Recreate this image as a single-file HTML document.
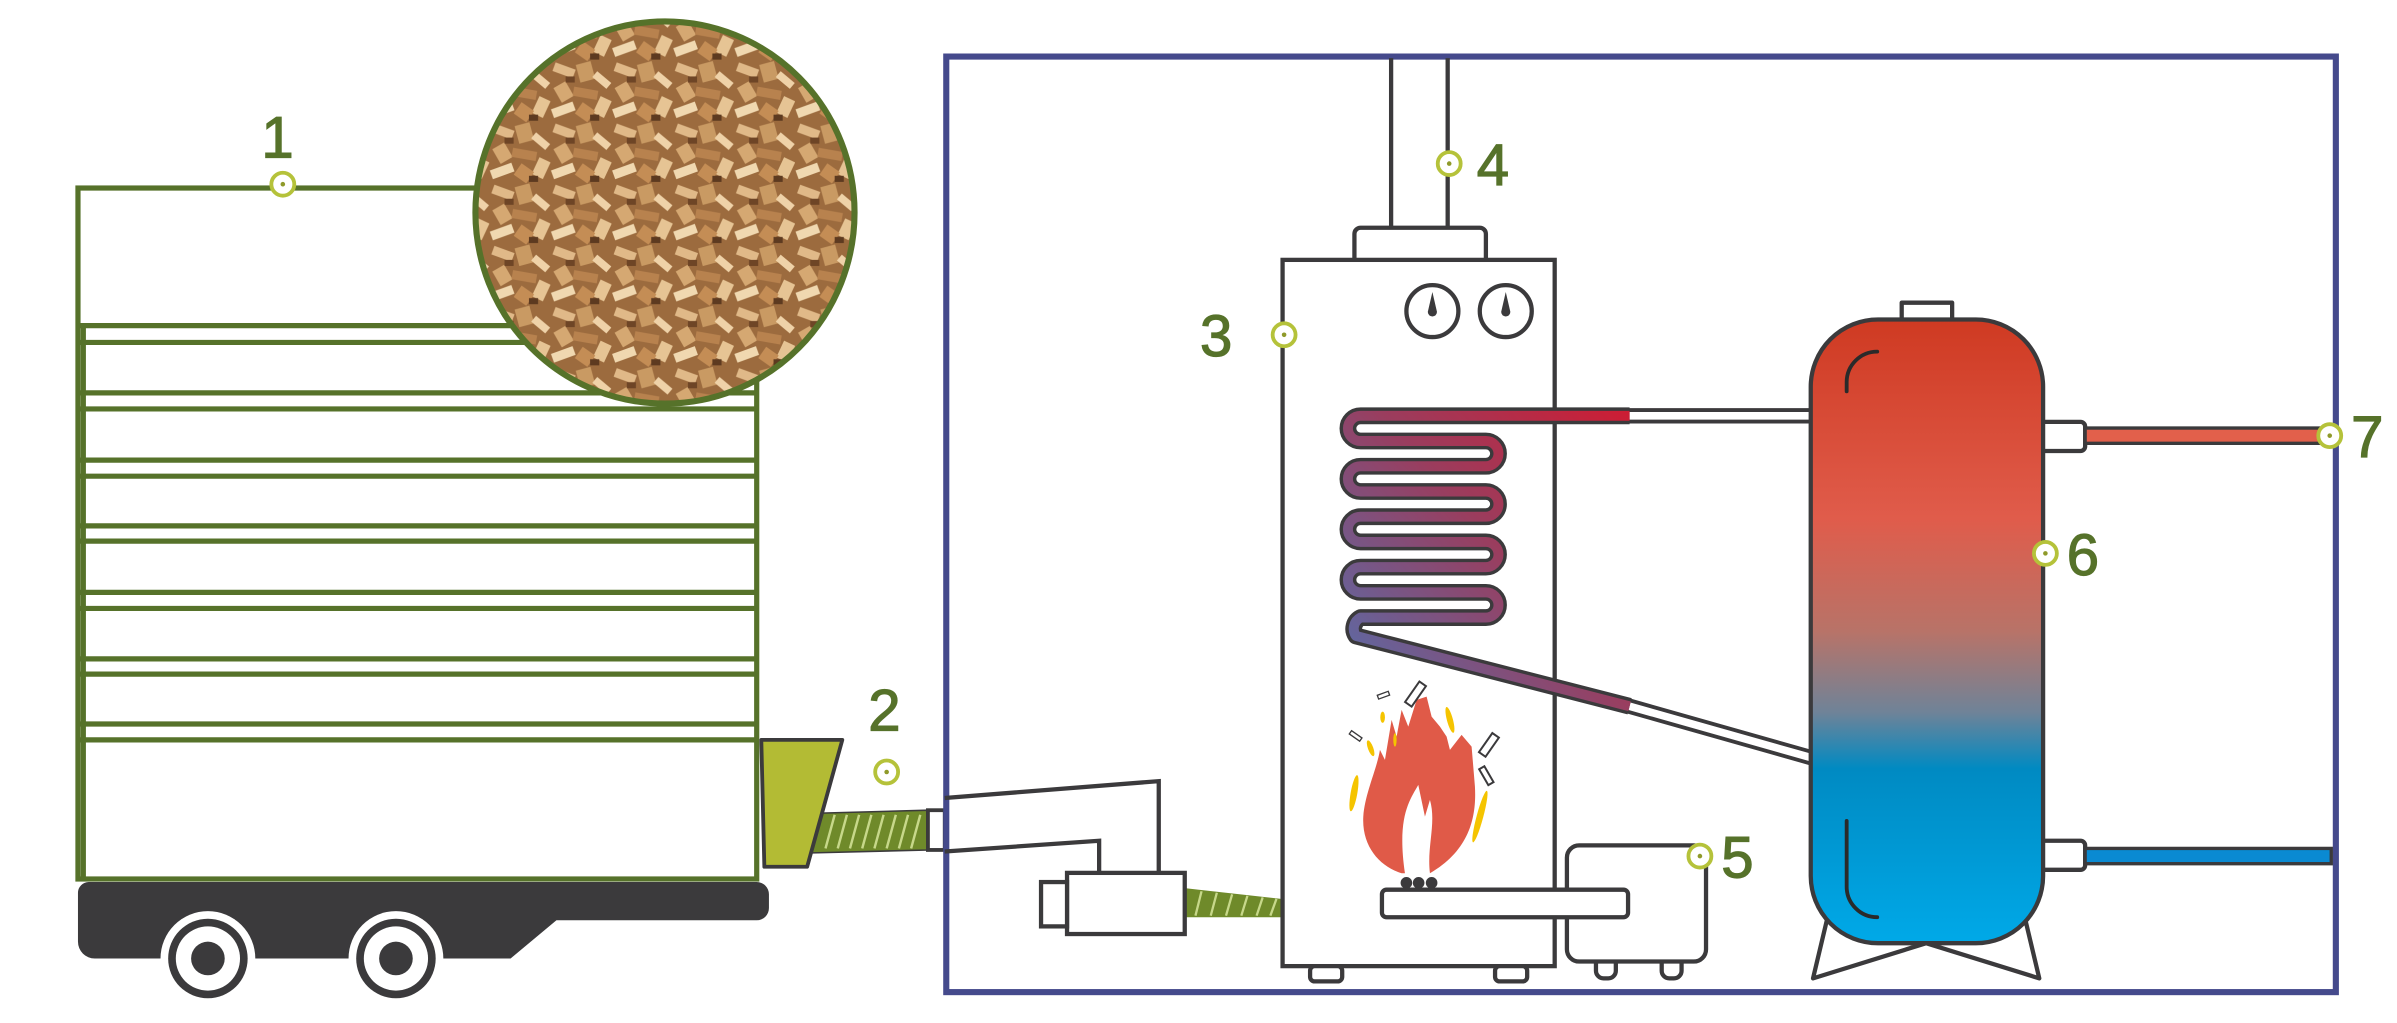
<!DOCTYPE html>
<html><head><meta charset="utf-8"><style>
html,body{margin:0;padding:0;background:#fff;}
svg{display:block;}
text{font-family:"Liberation Sans",sans-serif;fill:#56722a;}
</style></head><body>
<svg width="2397" height="1023" viewBox="0 0 1568 669.2" xmlns="http://www.w3.org/2000/svg">
<defs>
<pattern id="chips" width="40" height="40" patternUnits="userSpaceOnUse">
<rect width="40" height="40" fill="#9c6b3e"/>
<rect x="2" y="3" width="14" height="6" fill="#e0b988" transform="rotate(20 9 6)"/>
<rect x="18" y="1" width="10" height="12" fill="#c99a63" transform="rotate(-15 23 7)"/>
<rect x="28" y="10" width="12" height="5" fill="#efd2a8" transform="rotate(40 34 12)"/>
<rect x="4" y="15" width="9" height="11" fill="#d5a872" transform="rotate(-30 8 20)"/>
<rect x="15" y="18" width="16" height="6" fill="#b8824e" transform="rotate(10 23 21)"/>
<rect x="30" y="24" width="8" height="12" fill="#e6c494" transform="rotate(25 34 30)"/>
<rect x="1" y="29" width="15" height="6" fill="#f0d8b0" transform="rotate(-20 8 32)"/>
<rect x="18" y="29" width="10" height="9" fill="#c48d55" transform="rotate(35 23 33)"/>
<rect x="10" y="10" width="6" height="4" fill="#6e4526"/>
<rect x="26" y="35" width="6" height="4" fill="#5d3a20"/>
</pattern>
<linearGradient id="tank" x1="0" y1="209" x2="0" y2="617" gradientUnits="userSpaceOnUse">
<stop offset="0" stop-color="#cf3a22"/>
<stop offset="0.32" stop-color="#e05c4b"/>
<stop offset="0.5" stop-color="#b87368"/>
<stop offset="0.63" stop-color="#6f8398"/>
<stop offset="0.72" stop-color="#008ac2"/>
<stop offset="1" stop-color="#00a9e8"/>
</linearGradient>
<linearGradient id="coil" x1="1066" y1="272" x2="881" y2="430" gradientUnits="userSpaceOnUse">
<stop offset="0" stop-color="#cc1d34"/>
<stop offset="0.5" stop-color="#9a3d5e"/>
<stop offset="1" stop-color="#5f68a2"/>
</linearGradient>
</defs>

<g stroke="#56722a" stroke-width="3.4" fill="none">
<rect x="51" y="123" width="444" height="452" fill="#fff"/>
<line x1="54.5" y1="213" x2="54.5" y2="575"/>
<g>
<line x1="51" y1="213" x2="495" y2="213"/><line x1="51" y1="224" x2="495" y2="224"/>
<line x1="51" y1="257" x2="495" y2="257"/><line x1="51" y1="267.5" x2="495" y2="267.5"/>
<line x1="51" y1="301" x2="495" y2="301"/><line x1="51" y1="311.5" x2="495" y2="311.5"/>
<line x1="51" y1="344" x2="495" y2="344"/><line x1="51" y1="354" x2="495" y2="354"/>
<line x1="51" y1="387.5" x2="495" y2="387.5"/><line x1="51" y1="398" x2="495" y2="398"/>
<line x1="51" y1="431" x2="495" y2="431"/><line x1="51" y1="441" x2="495" y2="441"/>
<line x1="51" y1="473.6" x2="495" y2="473.6"/><line x1="51" y1="484" x2="495" y2="484"/>
</g>
</g>
<ellipse cx="435" cy="139" rx="124" ry="125" fill="url(#chips)" stroke="#56722a" stroke-width="4"/>

<path d="M58 577 H495 a8 8 0 0 1 8 8 V594 a8 8 0 0 1 -8 8 H364 L334 627 H62 a11 11 0 0 1 -11 -11 V584 a7 7 0 0 1 7 -7Z" fill="#3b3a3c"/>
<g>
<circle cx="136" cy="627" r="31" fill="#fff"/>
<circle cx="136" cy="627" r="26" fill="#3b3a3c"/>
<circle cx="136" cy="627" r="21" fill="#fff"/>
<circle cx="136" cy="627" r="11" fill="#3b3a3c"/>
<circle cx="259" cy="627" r="31" fill="#fff"/>
<circle cx="259" cy="627" r="26" fill="#3b3a3c"/>
<circle cx="259" cy="627" r="21" fill="#fff"/>
<circle cx="259" cy="627" r="11" fill="#3b3a3c"/>
</g>

<path d="M534 532 L607 530 L607 556 L529 558 Z" fill="#6f8a2a" stroke="#3b3a3c" stroke-width="1"/>
<g stroke="#c7d88a" stroke-width="1.6">
<line x1="540" y1="555" x2="546" y2="533"/><line x1="548" y1="555" x2="554" y2="533"/><line x1="556" y1="555" x2="562" y2="533"/><line x1="564" y1="555" x2="570" y2="533"/><line x1="572" y1="555" x2="578" y2="533"/><line x1="580" y1="555" x2="586" y2="533"/><line x1="588" y1="555" x2="594" y2="533"/><line x1="596" y1="555" x2="602" y2="533"/>
</g>
<path d="M498 484 H551 L528 567 H500 Z" fill="#b3bb34" stroke="#3b3a3c" stroke-width="2.5" stroke-linejoin="round"/>
<rect x="607" y="530" width="11" height="26" fill="#fff" stroke="#3b3a3c" stroke-width="2.5"/>

<rect x="619" y="37" width="909" height="612" fill="none" stroke="#454a8c" stroke-width="4"/>

<g fill="none" stroke="#3b3a3c" stroke-width="2.8">
<path d="M618 522 L758 511 V571"/>
<path d="M618 557 L719 550 V571"/>
</g>
<path d="M775 581 L838 588 L838 600 L775 600 Z" fill="#6f8a2a"/>
<g stroke="#c7d88a" stroke-width="1.5"><line x1="782" y1="599" x2="786" y2="583"/><line x1="792" y1="599" x2="796" y2="584"/><line x1="802" y1="599" x2="806" y2="585"/><line x1="812" y1="599" x2="816" y2="586"/><line x1="822" y1="599" x2="826" y2="587"/><line x1="831" y1="599" x2="835" y2="588"/></g>
<rect x="698" y="571" width="77" height="40" fill="#fff" stroke="#3b3a3c" stroke-width="2.8"/>
<rect x="681" y="577" width="17" height="29" fill="#fff" stroke="#3b3a3c" stroke-width="2.8"/>

<g stroke="#3b3a3c" stroke-width="2.8" fill="#fff">
<line x1="910" y1="38" x2="910" y2="149"/><line x1="947" y1="38" x2="947" y2="149"/>
<path d="M886 170 V153 a4 4 0 0 1 4 -4 H968 a4 4 0 0 1 4 4 V170"/>
<rect x="839" y="170" width="178" height="462"/>
<rect x="857" y="632" width="21" height="10" rx="3"/>
<rect x="978" y="632" width="21" height="10" rx="3"/>
<circle cx="937" cy="203.5" r="17"/>
<circle cx="985" cy="203.5" r="17"/>
</g>
<g fill="#3b3a3c">
<path d="M937 191 L940 204 A3 3 0 1 1 934 204 Z"/>
<path d="M985 191 L988 204 A3 3 0 1 1 982 204 Z"/>
</g>

<g fill="none" stroke-linecap="butt">
<line x1="1017" y1="272" x2="1186" y2="272" stroke="#3b3a3c" stroke-width="10"/>
<line x1="1017" y1="272" x2="1186" y2="272" stroke="#fff" stroke-width="5"/>
<line x1="1060" y1="460.3" x2="1186" y2="496" stroke="#3b3a3c" stroke-width="10"/>
<line x1="1060" y1="460.3" x2="1186" y2="496" stroke="#fff" stroke-width="5"/>
</g>
<path d="M1066 272 H890 a8.25 8.25 0 0 0 0 16.5 H972 a8.25 8.25 0 0 1 0 16.5 H890 a8.25 8.25 0 0 0 0 16.5 H972 a8.25 8.25 0 0 1 0 16.5 H890 a8.25 8.25 0 0 0 0 16.5 H972 a8.25 8.25 0 0 1 0 16.5 H890 a8.25 8.25 0 0 0 0 16.5 H972 a8.25 8.25 0 0 1 0 16.5 H890 a8.25 8.25 0 0 0 -3 12 L1066 462" fill="none" stroke="#3b3a3c" stroke-width="11" stroke-linejoin="round"/>
<path d="M1066 272 H890 a8.25 8.25 0 0 0 0 16.5 H972 a8.25 8.25 0 0 1 0 16.5 H890 a8.25 8.25 0 0 0 0 16.5 H972 a8.25 8.25 0 0 1 0 16.5 H890 a8.25 8.25 0 0 0 0 16.5 H972 a8.25 8.25 0 0 1 0 16.5 H890 a8.25 8.25 0 0 0 0 16.5 H972 a8.25 8.25 0 0 1 0 16.5 H890 a8.25 8.25 0 0 0 -3 12 L1066 462" fill="none" stroke="url(#coil)" stroke-width="6.5" stroke-linejoin="round"/>

<g transform="translate(870,431.7) scale(0.218)">
<path d="M215 640 C150 620 95 560 100 470 C105 400 140 330 150 270 L165 300 L185 180 L200 230 L215 150 L235 200 L260 120 L290 110 L305 170 L330 200 L350 230 L360 270 L395 225 L425 260 L435 380 C440 470 420 570 300 640 C290 560 320 490 300 420 L285 470 L265 375 C240 420 200 470 225 640 Z" fill="#e05a48"/>
<g fill="#f5c400">
<ellipse cx="158" cy="172" rx="7" ry="17"/><ellipse cx="122" cy="265" rx="8" ry="25" transform="rotate(-20 122 265)"/>
<ellipse cx="72" cy="400" rx="10" ry="55" transform="rotate(10 72 400)"/><ellipse cx="195" cy="240" rx="5" ry="20"/>
<ellipse cx="360" cy="180" rx="9" ry="40" transform="rotate(-15 360 180)"/><ellipse cx="450" cy="470" rx="10" ry="80" transform="rotate(15 450 470)"/>
</g>
<g fill="#fff" stroke="#3b3a3c" stroke-width="6">
<rect x="245" y="65" width="24" height="75" transform="rotate(35 257 102)"/>
<rect x="465" y="220" width="24" height="70" transform="rotate(35 477 255)"/>
<rect x="460" y="320" width="18" height="55" transform="rotate(-30 469 347)"/>
<rect x="143" y="100" width="35" height="12" transform="rotate(-20 160 106)" stroke-width="4"/>
<rect x="58" y="222" width="38" height="12" transform="rotate(35 77 228)" stroke-width="4"/>
</g>
</g>
<g fill="#3b3a3c"><circle cx="920" cy="577.5" r="3.8"/><circle cx="928" cy="577.5" r="3.8"/><circle cx="936.5" cy="577.5" r="3.8"/></g>

<g fill="#fff" stroke="#3b3a3c" stroke-width="2.8">
<rect x="1044" y="625" width="13" height="15" rx="5"/>
<rect x="1087" y="625" width="13" height="15" rx="5"/>
<path d="M1025 600 V561 a8 8 0 0 1 8 -8 H1108 a8 8 0 0 1 8 8 V621 a8 8 0 0 1 -8 8 H1033 a8 8 0 0 1 -8 -8 V600"/>
</g>
<rect x="904" y="582" width="161" height="18" rx="3" fill="#fff" stroke="#3b3a3c" stroke-width="2.8"/>

<g fill="#fff" stroke="#3b3a3c" stroke-width="2.8" stroke-linejoin="round">
<path d="M1196 598 L1186 640 L1260 617 L1334 640 L1324 598" fill="none"/>
<rect x="1244" y="198" width="33" height="12"/>
<rect x="1333" y="276" width="31" height="19" rx="3"/>
<rect x="1333" y="550" width="31" height="19" rx="3"/>
</g>
<rect x="1364" y="280" width="161" height="10" fill="#e2604b" stroke="#3b3a3c" stroke-width="2.2"/>
<rect x="1364" y="555" width="161" height="10" fill="#0a8ad2" stroke="#3b3a3c" stroke-width="2.2"/>
<rect x="1184.5" y="209" width="152" height="408" rx="44" fill="url(#tank)" stroke="#3b3a3c" stroke-width="2.8"/>
<g fill="none" stroke="#2a2a2a" stroke-width="2.5" stroke-linecap="round">
<path d="M1228 230 a20 20 0 0 0 -20 20 V256"/>
<path d="M1208 537 V580 a20 20 0 0 0 20 20"/>
</g>

<g fill="#fff" stroke="#b5c23a" stroke-width="2.5">
<circle cx="185" cy="120.5" r="7.5"/><circle cx="580" cy="505" r="7.5"/><circle cx="840" cy="219" r="7.5"/>
<circle cx="948" cy="107" r="7.5"/><circle cx="1112" cy="560" r="7.5"/><circle cx="1338" cy="362" r="7.5"/><circle cx="1524" cy="285" r="7.5"/>
</g>
<g fill="#8f9a2a"><circle cx="185" cy="120.5" r="1.5"/><circle cx="580" cy="505" r="1.5"/><circle cx="840" cy="219" r="1.5"/><circle cx="948" cy="107" r="1.5"/><circle cx="1112" cy="560" r="1.5"/><circle cx="1338" cy="362" r="1.5"/><circle cx="1524" cy="285" r="1.5"/></g>
<g font-size="38" stroke="#56722a" stroke-width="0.8">
<text x="171" y="103">1</text>
<text x="568" y="478">2</text>
<text x="785" y="233">3</text>
<text x="966" y="121">4</text>
<text x="1126" y="574">5</text>
<text x="1352" y="376">6</text>
<text x="1538" y="299">7</text>
</g>
</svg>
</body></html>
